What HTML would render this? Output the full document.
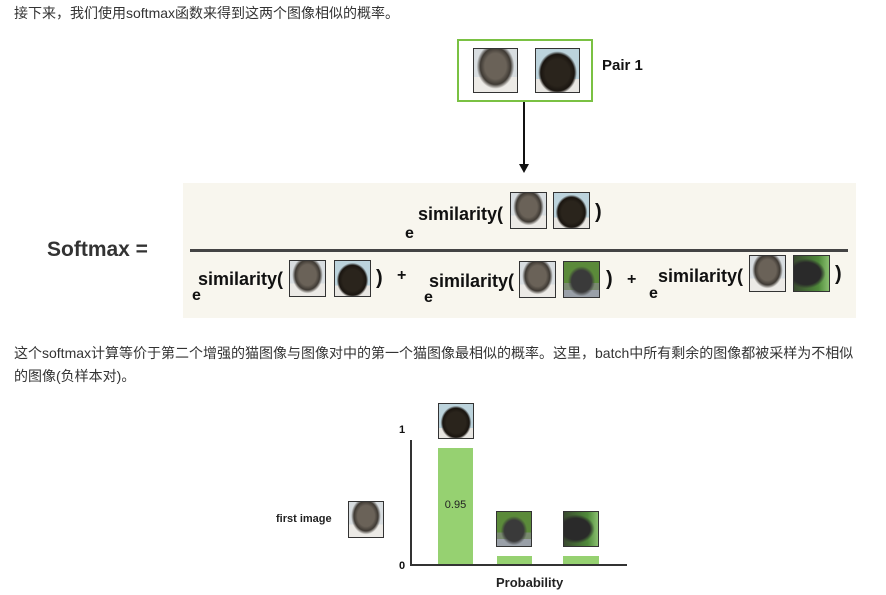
<!DOCTYPE html>
<html><head><meta charset="utf-8"><style>
body{margin:0;width:886px;height:595px;background:#fff;position:relative;overflow:hidden;font-family:"Liberation Sans","Noto Sans CJK SC",sans-serif;color:#333}
.a{position:absolute;white-space:nowrap}
.t{font-size:14px;color:#333}
.b{font-weight:bold;color:#111}
.img{position:absolute;border:1px solid #333;box-sizing:border-box}
.cat1{background:radial-gradient(ellipse at 50% 40%,#6a6258 0 35%,#3f3a34 50%,transparent 62%),linear-gradient(#d8dde0 0 65%,#eceae6 65%)}
.cat2{background:radial-gradient(ellipse at 50% 55%,#2a241c 0 40%,#1a1510 55%,transparent 64%),linear-gradient(#bcd3dc 0 70%,#e8e6e2 70%)}
.ele1{background:radial-gradient(ellipse at 50% 55%,#3a3a3a 0 40%,transparent 55%),linear-gradient(#5b8a3a 0 60%,#7a8a70 60% 80%,#9aa0a8 80%)}
.ele2{background:radial-gradient(ellipse at 35% 50%,#2a2a2a 0 45%,transparent 60%),linear-gradient(90deg,#3a4a30,#4f8a3a 70%,#8ac070)}
</style></head><body>
<div class="a t" style="left:14px;top:3px">接下来，我们使用softmax函数来得到这两个图像相似的概率。</div>

<div class="a" style="left:457px;top:39px;width:136px;height:63px;border:2px solid #7ac143;box-sizing:border-box"></div>
<div class="img cat1" style="left:473px;top:48px;width:45px;height:45px"></div>
<div class="img cat2" style="left:535px;top:48px;width:45px;height:45px"></div>
<div class="a b" style="left:602px;top:57px;font-size:15px">Pair 1</div>
<div class="a" style="left:523px;top:102px;width:2px;height:64px;background:#111"></div>
<div class="a" style="left:519px;top:164px;width:0;height:0;border-left:5px solid transparent;border-right:5px solid transparent;border-top:9px solid #111"></div>

<div class="a" style="left:183px;top:183px;width:673px;height:135px;background:#f8f6ee"></div>
<div class="a b" style="left:47px;top:238px;font-size:21px;color:#333">Softmax =</div>
<div class="a" style="left:190px;top:249px;width:658px;height:3px;background:#444"></div>

<div class="a b" style="left:405px;top:225px;font-size:16px">e</div>
<div class="a b" style="left:418px;top:204px;font-size:18px">similarity(</div>
<div class="img cat1" style="left:510px;top:192px;width:37px;height:37px"></div>
<div class="img cat2" style="left:553px;top:192px;width:37px;height:37px"></div>
<div class="a b" style="left:595px;top:201px;font-size:20px">)</div>

<div class="a b" style="left:192px;top:287px;font-size:16px">e</div>
<div class="a b" style="left:198px;top:269px;font-size:18px">similarity(</div>
<div class="img cat1" style="left:289px;top:260px;width:37px;height:37px"></div>
<div class="img cat2" style="left:334px;top:260px;width:37px;height:37px"></div>
<div class="a b" style="left:376px;top:267px;font-size:20px">)</div>
<div class="a b" style="left:397px;top:267px;font-size:16px">+</div>

<div class="a b" style="left:424px;top:289px;font-size:16px">e</div>
<div class="a b" style="left:429px;top:271px;font-size:18px">similarity(</div>
<div class="img cat1" style="left:519px;top:261px;width:37px;height:37px"></div>
<div class="img ele1" style="left:563px;top:261px;width:37px;height:37px"></div>
<div class="a b" style="left:606px;top:268px;font-size:20px">)</div>
<div class="a b" style="left:627px;top:271px;font-size:16px">+</div>

<div class="a b" style="left:649px;top:285px;font-size:16px">e</div>
<div class="a b" style="left:658px;top:266px;font-size:18px">similarity(</div>
<div class="img cat1" style="left:749px;top:255px;width:37px;height:37px"></div>
<div class="img ele2" style="left:793px;top:255px;width:37px;height:37px"></div>
<div class="a b" style="left:835px;top:263px;font-size:20px">)</div>

<div class="a t" style="left:14px;top:343px">这个softmax计算等价于第二个增强的猫图像与图像对中的第一个猫图像最相似的概率。这里，batch中所有剩余的图像都被采样为不相似</div>
<div class="a t" style="left:14px;top:366px">的图像(负样本对)。</div>

<div class="a b" style="left:399px;top:424px;font-size:11px">1</div>
<div class="a b" style="left:399px;top:560px;font-size:11px">0</div>
<div class="a" style="left:410px;top:440px;width:2px;height:126px;background:#333"></div>
<div class="a" style="left:410px;top:564px;width:217px;height:2px;background:#333"></div>
<div class="a" style="left:438px;top:448px;width:35px;height:116px;background:#96d171"></div>
<div class="a" style="left:438px;top:499px;width:35px;text-align:center;font-size:11px;color:#222">0.95</div>
<div class="a" style="left:497px;top:556px;width:35px;height:8px;background:#96d171"></div>
<div class="a" style="left:563px;top:556px;width:36px;height:8px;background:#96d171"></div>
<div class="img cat2" style="left:438px;top:403px;width:36px;height:36px"></div>
<div class="img ele1" style="left:496px;top:511px;width:36px;height:36px"></div>
<div class="img ele2" style="left:563px;top:511px;width:36px;height:36px"></div>
<div class="img cat1" style="left:348px;top:501px;width:36px;height:37px"></div>
<div class="a b" style="left:276px;top:513px;font-size:11px;color:#222">first image</div>
<div class="a b" style="left:496px;top:575px;font-size:13px;color:#222">Probability</div>
</body></html>
